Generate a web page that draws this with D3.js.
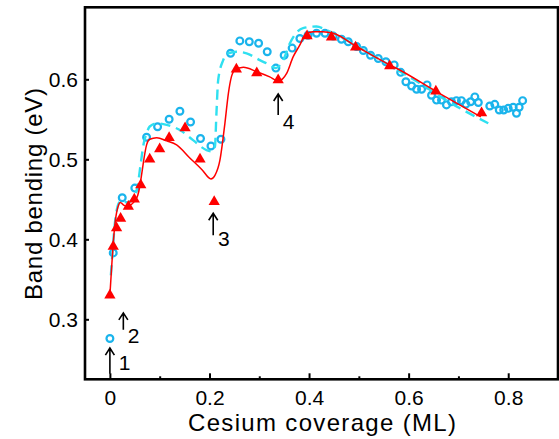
<!DOCTYPE html>
<html>
<head>
<meta charset="utf-8">
<script src="https://cdn.jsdelivr.net/npm/d3@7"></script>
<style>
  body { margin: 0; background: #fff; }
  svg text { font-family: "Liberation Sans", Arial, sans-serif; fill: #000; }
</style>
</head>
<body>
<div id="chart"></div>
<script>
// DATA

// red triangles (measured points)
var triX = [0, 0.0067, 0.0134, 0.0215, 0.037, 0.049, 0.062, 0.080, 0.100, 0.119, 0.151, 0.181, 0.2095,
            0.254, 0.295, 0.338, 0.396, 0.445, 0.4935, 0.562, 0.6547, 0.7465];
var triY = [0.330, 0.391, 0.414, 0.426, 0.441, 0.450, 0.468, 0.500, 0.513, 0.527, 0.539, 0.500, 0.447,
            0.6125, 0.608, 0.599, 0.654, 0.6525, 0.640, 0.6166, 0.585, 0.558];

// red solid curve
var redX = [0, 0.004, 0.008, 0.012, 0.016, 0.021, 0.027, 0.034, 0.042, 0.050, 0.056, 0.060, 0.064, 0.067,
            0.0737, 0.080, 0.094, 0.114, 0.134, 0.160, 0.185, 0.203, 0.211, 0.221, 0.231, 0.238, 0.244,
            0.251, 0.268, 0.295, 0.321, 0.338, 0.355, 0.368, 0.3816, 0.3916, 0.408, 0.428, 0.4485,
            0.4955, 0.562, 0.582, 0.6547, 0.745];
var redY = [0.330, 0.370, 0.405, 0.428, 0.440, 0.446, 0.443, 0.441, 0.443, 0.448, 0.455, 0.466, 0.482, 0.495,
            0.518, 0.525, 0.527, 0.523, 0.518, 0.502, 0.487, 0.4754, 0.480, 0.499, 0.545, 0.5825, 0.603,
            0.6116, 0.615, 0.6095, 0.603, 0.598, 0.6075, 0.628, 0.643, 0.655, 0.6595, 0.6595, 0.6575,
            0.641, 0.618, 0.6116, 0.585, 0.553];

// cyan open circles
var circX = [0, 0.0067, 0.0248, 0.050, 0.0737, 0.0958, 0.119, 0.1406, 0.162, 0.182, 0.203, 0.223,
             0.2424, 0.261, 0.280, 0.2987, 0.316, 0.3334, 0.350, 0.366, 0.3816, 0.398, 0.415, 0.432,
             0.4485, 0.465, 0.4787, 0.4955, 0.509, 0.5235, 0.539, 0.5543, 0.571, 0.584, 0.5945, 0.606,
             0.616, 0.626, 0.637, 0.646, 0.656, 0.666, 0.676, 0.686, 0.696, 0.706, 0.715, 0.7245, 0.733,
             0.740, 0.763, 0.773, 0.782, 0.791, 0.800, 0.810, 0.8166, 0.822, 0.829];
var circY = [0.276, 0.383, 0.452, 0.464, 0.5275, 0.5407, 0.550, 0.560, 0.5466, 0.526, 0.5166, 0.525,
             0.6325, 0.648, 0.647, 0.645, 0.6345, 0.614, 0.630, 0.639, 0.651, 0.655, 0.6575, 0.6575,
             0.654, 0.650, 0.647, 0.641, 0.636, 0.630, 0.626, 0.622, 0.618, 0.6087, 0.597, 0.5916,
             0.5875, 0.5875, 0.593, 0.580, 0.574, 0.574, 0.568, 0.572, 0.5733, 0.5733, 0.569, 0.572, 0.578,
             0.571, 0.5666, 0.5687, 0.5616, 0.5616, 0.5637, 0.565, 0.5575, 0.565, 0.5733];

// cyan dashed curve
var cyanX = [0.002, 0.006, 0.010, 0.015, 0.022, 0.035, 0.048, 0.056, 0.062, 0.068, 0.074, 0.080, 0.094,
             0.114, 0.1406, 0.167, 0.194, 0.205, 0.211, 0.214, 0.2175, 0.2276, 0.2376, 0.2544, 0.2745,
             0.301, 0.321, 0.3334, 0.348, 0.3615, 0.388, 0.415, 0.435, 0.460, 0.500, 0.560, 0.620, 0.680,
             0.720, 0.760];
var cyanY = [0.355, 0.390, 0.420, 0.440, 0.448, 0.446, 0.452, 0.468, 0.495, 0.520, 0.533, 0.541, 0.545,
             0.543, 0.5366, 0.524, 0.5116, 0.510, 0.516, 0.5575, 0.599, 0.624, 0.6325, 0.6345, 0.6325,
             0.624, 0.618, 0.614, 0.624, 0.645, 0.664, 0.666, 0.6616, 0.654, 0.640, 0.618, 0.596, 0.572,
             0.558, 0.545];

// arrows with labels
var arrowLabels = ["1", "2", "3", "4"];
var arrowX = [0, 0.027, 0.2075, 0.338];
var arrowTipY = [0.264, 0.308, 0.4325, 0.5816];
var arrowTailY = [0.232, 0.287, 0.405, 0.5554];
var labelX = [0.018, 0.036, 0.217, 0.347];
var labelY = [0.2366, 0.270, 0.3916, 0.5375];

// ticks
var xTicks = [0, 0.2, 0.4, 0.6, 0.8];
var xMinor = [0.1, 0.3, 0.5, 0.7];
var yTicks = [0.3, 0.4, 0.5, 0.6];


// SIZING
var W = 559, H = 439;
var plotLeft = 85, plotRight = 558, plotTop = 7.3, plotBottom = 379.3;

var svg = d3.select("#chart").append("svg")
    .attr("width", W)
    .attr("height", H);

var x = d3.scaleLinear().domain([-0.05, 0.9]).range([plotLeft, plotRight]);
var y = d3.scaleLinear().domain([0.225, 0.69]).range([plotBottom, plotTop]);

function zip(xs, ys) {
    return xs.map(function (v, i) { return [v, ys[i]]; });
}

// AXES
var xAxis = svg.append("g")
    .attr("transform", "translate(0," + plotBottom + ")")
    .call(d3.axisBottom(x).tickValues(xTicks).tickSizeInner(-6).tickSizeOuter(0).tickPadding(11)
        .tickFormat(d3.format("~g")));
var xMinorAxis = svg.append("g")
    .attr("transform", "translate(0," + plotBottom + ")")
    .call(d3.axisBottom(x).tickValues(xMinor).tickSizeInner(-3).tickSizeOuter(0).tickFormat(""));
var yAxis = svg.append("g")
    .attr("transform", "translate(" + plotLeft + ",0)")
    .call(d3.axisLeft(y).tickValues(yTicks).tickSizeInner(-4).tickSizeOuter(0).tickPadding(7)
        .tickFormat(d3.format(".1f")));

[xAxis, xMinorAxis, yAxis].forEach(function (g) {
    g.select(".domain").remove();
    g.selectAll("line").attr("stroke", "#000").attr("stroke-width", 2);
    g.selectAll("text").style("font-size", "21px").attr("fill", "#000")
        .style("font-family", "'Liberation Sans', Arial, sans-serif");
});

// frame
svg.append("rect")
    .attr("x", plotLeft)
    .attr("y", plotTop)
    .attr("width", plotRight - plotLeft)
    .attr("height", plotBottom - plotTop)
    .attr("fill", "none")
    .attr("stroke", "#000")
    .attr("stroke-width", 2.6);

// axis titles
svg.append("text")
    .attr("x", 322)
    .attr("y", 431)
    .attr("text-anchor", "middle")
    .style("font-size", "24px")
    .attr("textLength", 268)
    .attr("lengthAdjust", "spacing")
    .text("Cesium coverage (ML)");

svg.append("text")
    .attr("transform", "translate(42,194) rotate(-90)")
    .attr("text-anchor", "middle")
    .style("font-size", "24px")
    .attr("textLength", 212)
    .attr("lengthAdjust", "spacing")
    .text("Band bending (eV)");

// SERIES
var line = d3.line()
    .x(function (d) { return x(d[0]); })
    .y(function (d) { return y(d[1]); })
    .curve(d3.curveMonotoneX);

svg.append("g").selectAll("circle")
    .data(zip(circX, circY))
    .enter().append("circle")
    .attr("cx", function (d) { return x(d[0]); })
    .attr("cy", function (d) { return y(d[1]); })
    .attr("r", 3.4)
    .attr("fill", "none")
    .attr("stroke", "#1ab4ec")
    .attr("stroke-width", 2.2);

svg.append("path")
    .datum(zip(cyanX, cyanY))
    .attr("d", line)
    .attr("fill", "none")
    .attr("stroke", "#2fe0f0")
    .attr("stroke-width", 2.4)
    .attr("stroke-dasharray", "10,6");

svg.append("path")
    .datum(zip(redX, redY))
    .attr("d", line)
    .attr("fill", "none")
    .attr("stroke", "#f00")
    .attr("stroke-width", 1.5);

svg.append("g").selectAll("path")
    .data(zip(triX, triY))
    .enter().append("path")
    .attr("d", d3.symbol(d3.symbolTriangle).size(55))
    .attr("transform", function (d) { return "translate(" + x(d[0]) + "," + y(d[1]) + ")"; })
    .attr("fill", "#f00");

// ARROWS
arrowLabels.forEach(function (lab, i) {
    var ax = x(arrowX[i]), ty = y(arrowTipY[i]), by = y(arrowTailY[i]);
    svg.append("path")
        .attr("d", "M" + ax + "," + by + "L" + ax + "," + ty +
            "M" + (ax - 4.5) + "," + (ty + 7) + "L" + ax + "," + ty + "L" + (ax + 4.5) + "," + (ty + 7))
        .attr("fill", "none")
        .attr("stroke", "#000")
        .attr("stroke-width", 1.6);
    svg.append("text")
        .attr("x", x(labelX[i]))
        .attr("y", y(labelY[i]))
        .style("font-size", "21px")
        .text(lab);
});
</script>
</body>
</html>
